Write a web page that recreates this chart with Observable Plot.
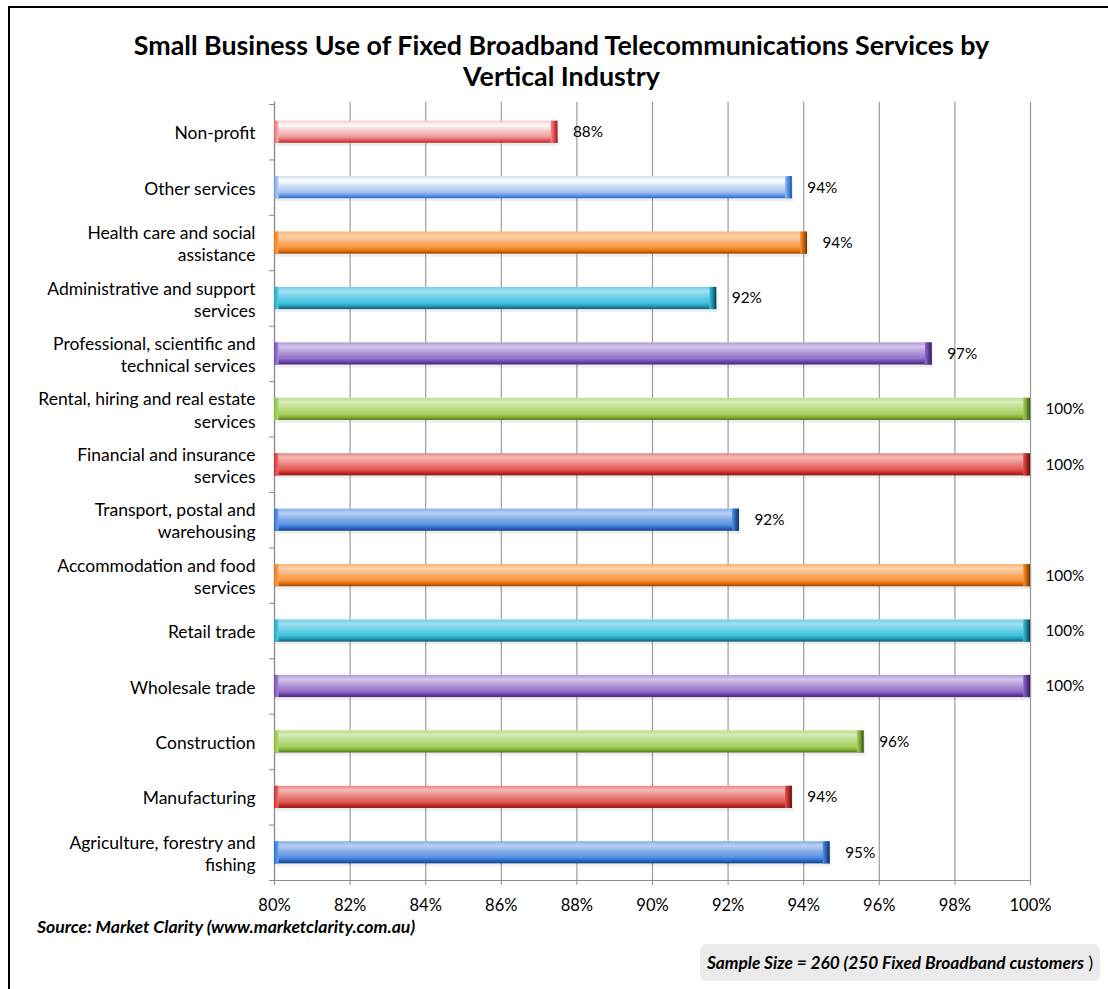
<!DOCTYPE html>
<html>
<head>
<meta charset="utf-8">
<script src="https://cdn.jsdelivr.net/npm/d3@7"></script>
<script src="https://cdn.jsdelivr.net/npm/@observablehq/plot@0.6"></script>
<style>
  html, body { margin: 0; padding: 0; background: #fff; width: 1108px; height: 989px; overflow: hidden; }
  body { position: relative; font-family: Lato, "Open Sans", sans-serif; color: #000; }
  #frame { position: absolute; left: 8px; top: 6px; width: 1200px; height: 1200px;
           border-left: 2.5px solid #000; border-top: 2.5px solid #000; box-sizing: border-box; }
  #title { position: absolute; left: 0; top: 30px; width: 1123px; text-align: center;
           font-weight: bold; font-size: 26.8px; line-height: 31px; }
  #chart { position: absolute; left: 0; top: 90px; }
  #source { position: absolute; left: 37px; top: 916px; font-weight: bold; font-style: italic; font-size: 17.6px; }
  #sample { position: absolute; left: 700px; top: 944px; width: 400px; height: 37px; background: #ebebeb;
            border-radius: 6px; font-size: 17.3px; line-height: 37px; text-align: center; }
  #sample b { font-style: italic; }
</style>
</head>
<body>
<div id="frame"></div>
<div id="title">Small Business Use of Fixed Broadband Telecommunications Services by<br>Vertical Industry</div>
<div id="chart"></div>
<div id="source">Source: Market Clarity (www.marketclarity.com.au)</div>
<div id="sample"><b>Sample Size = 260 (250 Fixed Broadband customers</b> )</div>
<script>
// ---- data (top to bottom as drawn) ----
const categories = [
  "Non-profit",
  "Other services",
  "Health care and social assistance",
  "Administrative and support services",
  "Professional, scientific and technical services",
  "Rental, hiring and real estate services",
  "Financial and insurance services",
  "Transport, postal and warehousing",
  "Accommodation and food services",
  "Retail trade",
  "Wholesale trade",
  "Construction",
  "Manufacturing",
  "Agriculture, forestry and fishing"
];
const values = [87.5, 93.7, 94.1, 91.7, 97.4, 100, 100, 92.3, 100, 100, 100, 95.6, 93.7, 94.7];
const xTicks = [80, 82, 84, 86, 88, 90, 92, 94, 96, 98, 100];

// ---- styles ----
const barColorNames = ["pink", "lightblue", "orange", "aqua", "purple", "green", "red", "blue",
                       "orange", "aqua", "purple", "green", "red", "blue"];
const palette = {
  blue: "#6b9de4", red: "#e56e6a", green: "#b0d672", purple: "#a083d0",
  aqua: "#52c8e2", orange: "#f9a154", lightblue: "#b4cdf2", pink: "#f0afaf"
};

function wrap(s, max) {
  const words = s.split(" "), lines = [];
  let cur = "";
  for (const w of words) {
    if (cur && (cur + " " + w).length > max) { lines.push(cur); cur = w; }
    else cur = cur ? cur + " " + w : w;
  }
  if (cur) lines.push(cur);
  return lines.join("\n");
}

const data = categories.map((name, i) => ({
  name, i, value: values[i], color: barColorNames[i]
}));

const boundaries = d3.range(-0.5, categories.length, 1);
const half = 0.2;

const plot = Plot.plot({
  width: 1108,
  height: 830,
  marginLeft: 274,
  marginRight: 78,
  marginTop: 14,
  marginBottom: 40,
  style: { fontFamily: "Lato, 'Open Sans', sans-serif", color: "#000", background: "transparent" },
  x: { domain: [80, 100], label: null },
  y: { domain: [-0.5, categories.length - 0.5], reverse: true, label: null },
  color: { type: "identity" },
  marks: [
    Plot.gridX({ ticks: xTicks, stroke: "#9c9c9c", strokeOpacity: 1, strokeWidth: 1.2, y1: -0.54, y2: categories.length - 0.5 }),
    Plot.ruleX([80], { y1: -0.54, y2: categories.length - 0.5, stroke: "#8c8c8c", strokeWidth: 1.2 }),
    Plot.ruleY([categories.length - 0.5], { x1: 80, x2: 100, stroke: "#8c8c8c", strokeWidth: 1.2 }),
    Plot.axisY({ ticks: boundaries, tickFormat: () => "", tickSize: 5, stroke: "#8c8c8c", label: null }),
    Plot.axisX({ ticks: xTicks, tickFormat: d => d + "%", tickSize: 5, tickPadding: 14, fontSize: 16.5, stroke: "#8c8c8c", fill: "#000", label: null }),
    // shadow
    Plot.rect(data, { x1: 80, x2: "value", y1: d => d.i - half, y2: d => d.i + half, dx: 1.5, dy: 3, fill: "#7f7f7f", fillOpacity: 0.13 }),
    // bars
    Plot.rect(data, { x1: 80, x2: "value", y1: d => d.i - half, y2: d => d.i + half, fill: d => `url(#g-${d.color})` }),
    // right bevel cap
    Plot.rect(data, { x1: d => d.value - 0.18, x2: "value", y1: d => d.i - half, y2: d => d.i + half, fill: d => `url(#c-${d.color})` }),
    // left bevel
    Plot.rect(data, { x1: 80, x2: 80.12, y1: d => d.i - half, y2: d => d.i + half, fill: d => `url(#l-${d.color})` }),
    // value labels
    Plot.text(data, { x: "value", y: "i", text: d => Math.round(d.value) + "%", dx: 15, textAnchor: "start", fontSize: 15.3, fill: "#000" }),
    // category labels
    Plot.text(data, { frameAnchor: "left", y: "i", text: d => wrap(d.name, 30), dx: -19, textAnchor: "end", lineAnchor: "middle", lineHeight: 1.27, fontSize: 17.5, fill: "#000" })
  ]
});

// gradients for a tube-like Excel look
const svg = d3.select(plot);
const defs = svg.insert("defs", ":first-child");
for (const [name, base] of Object.entries(palette)) {
  const c = d3.hsl(base);
  const shade = (k) => { const h = d3.hsl(c); h.l = Math.max(0, Math.min(1, c.l + k)); return h.formatHex(); };
  const g = defs.append("linearGradient").attr("id", `g-${name}`).attr("x1", 0).attr("y1", 0).attr("x2", 0).attr("y2", 1);
  [[0, shade(0.06)], [0.2, shade(0.18)], [0.45, shade(0.06)], [0.72, shade(-0.04)], [0.88, shade(-0.2)], [1, shade(-0.36)]]
    .forEach(([o, col]) => g.append("stop").attr("offset", o).attr("stop-color", col));
  const cg = defs.append("linearGradient").attr("id", `c-${name}`).attr("x1", 0).attr("y1", 0).attr("x2", 1).attr("y2", 0);
  [[0, shade(-0.06)], [0.55, shade(-0.25)], [1, shade(-0.45)]]
    .forEach(([o, col]) => cg.append("stop").attr("offset", o).attr("stop-color", col));
  const lg = defs.append("linearGradient").attr("id", `l-${name}`).attr("x1", 0).attr("y1", 0).attr("x2", 1).attr("y2", 0);
  [[0, shade(-0.16)], [1, shade(0.02)]]
    .forEach(([o, col]) => lg.append("stop").attr("offset", o).attr("stop-color", col));
}

document.getElementById("chart").appendChild(plot);
</script>
</body>
</html>
